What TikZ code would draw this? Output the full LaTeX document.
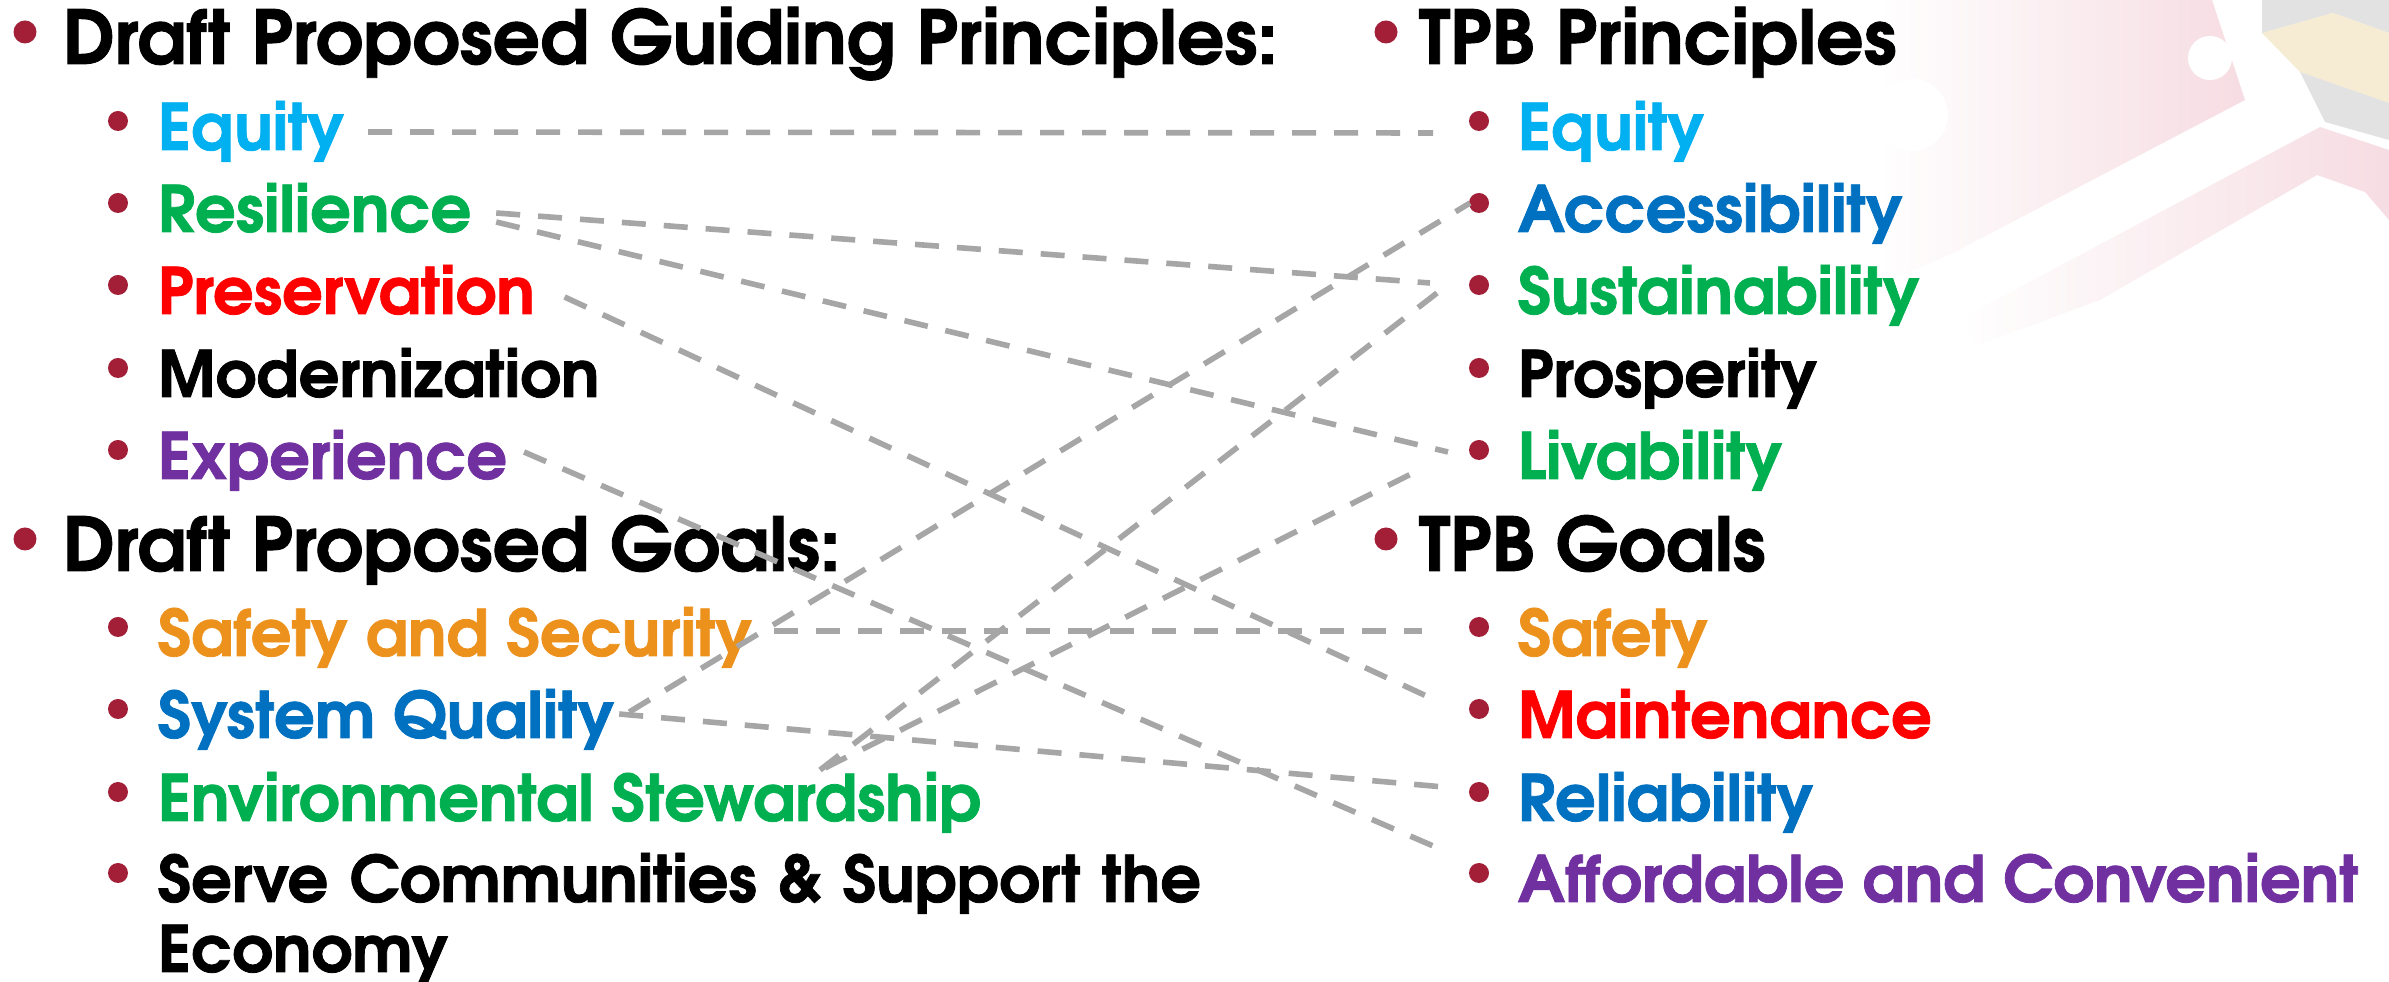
\documentclass[tikz,border=0pt]{standalone}
\usepackage{fontspec}
\newfontfamily\gothic{TeX Gyre Adventor}[BoldFeatures={FakeBold=1.2}]
\definecolor{dotred}{RGB}{163,30,55}
\definecolor{linkgrey}{RGB}{166,166,166}
\definecolor{cequity}{RGB}{0,176,240}
\definecolor{cgreen}{RGB}{0,176,80}
\definecolor{cred}{RGB}{255,0,0}
\definecolor{cpurple}{RGB}{112,48,160}
\definecolor{corange}{RGB}{237,145,29}
\definecolor{cblue}{RGB}{0,112,192}
\definecolor{flagpink}{RGB}{244,212,220}
\definecolor{flaggrey}{RGB}{215,215,215}
\definecolor{flaggold}{RGB}{244,232,200}
\newcommand\headfont{\gothic\bfseries\fontsize{18.6}{20}\selectfont}
\newcommand\itemfont{\gothic\bfseries\fontsize{16}{17.5}\selectfont}
\usetikzlibrary{positioning}
\tikzset{
  px/.style={x=0.25pt,y=-0.25pt},
  hdot/.style={circle,fill=dotred,inner sep=0pt,minimum size=5.75pt},
  idot/.style={circle,fill=dotred,inner sep=0pt,minimum size=5pt},
  head/.style={anchor=base west,inner sep=0pt,font=\headfont},
  entry/.style={anchor=base west,inner sep=0pt,font=\itemfont},
  link/.style={draw=linkgrey,line width=1.4pt,dash pattern=on 6pt off 4.5pt},
}
\begin{document}
\begin{tikzpicture}[px]
\useasboundingbox (0,0) rectangle (2389,982);
\fill[white] (0,0) rectangle (2389,982);

% faded flag in the corner
\shade[left color=white,right color=flagpink,opacity=0.8] (1880,0) -- (2212,0) -- (2245,100)
  -- (1955,252) -- (1880,285) -- cycle;
\fill[white] (2210,58) circle (5.5pt);
\fill[white] (1912,115) circle (9pt);
\shade[left color=white,right color=flagpink,opacity=0.8] (1962,318) -- (2320,127)
  -- (2389,150) -- (2389,220) -- (2365,192) -- (2317,175) -- (2100,300) -- (1978,345) -- cycle;
\fill[flaggrey,opacity=0.7] (2262,0) -- (2389,0) -- (2389,33) -- (2333,13) -- (2262,33) -- cycle;
\fill[flaggold,opacity=0.8] (2262,33) -- (2333,13) -- (2389,33) -- (2389,103) -- (2300,72) -- cycle;
\fill[flaggrey,opacity=0.7] (2300,72) -- (2389,103) -- (2389,140) -- (2325,122) -- cycle;

% left column
\node[hdot] (lhd1) at (25,32) {};
\node[head] (lhead1) at (62,64) {Draft Proposed Guiding Principles:};
\node[idot] (dlequity) at (118,121) {};
\node[entry,text=cequity] (lequity) at (157,150) {Equity};
\node[idot] (dlres) at (118,203) {};
\node[entry,text=cgreen] (lres) at (157,232) {Resilience};
\node[idot] (dlpres) at (118,285) {};
\node[entry,text=cred] (lpres) at (157,314) {Preservation};
\node[idot] (dlmod) at (118,368) {};
\node[entry] (lmod) at (157,397) {Modernization};
\node[idot] (dlexp) at (118,450) {};
\node[entry,text=cpurple] (lexp) at (157,479) {Experience};
\node[hdot] (lhd2) at (25,539) {};
\node[head] (lhead2) at (62,571) {Draft Proposed Goals:};
\node[idot] (dlsafe) at (118,627) {};
\node[entry,text=corange] (lsafe) at (157,656) {Safety and Security};
\node[idot] (dlqual) at (118,709) {};
\node[entry,text=cblue] (lqual) at (157,738) {System Quality};
\node[idot] (dlenv) at (118,792) {};
\node[entry,text=cgreen] (lenv) at (157,821) {Environmental Stewardship};
\node[idot] (dlserve) at (118,873) {};
\node[entry,text width=320pt,align=left] (lserve) at (157,902)
  {Serve Communities \& Support the\\Economy};

% right column
\node[hdot] (rhd1) at (1386,32) {};
\node[head] (rhead1) at (1418,64) {TPB Principles};
\node[idot] (dreq) at (1479,121) {};
\node[entry,text=cequity] (requity) at (1517,150) {Equity};
\node[idot] (dracc) at (1479,203) {};
\node[entry,text=cblue] (racc) at (1517,232) {Accessibility};
\node[idot] (drsust) at (1479,285) {};
\node[entry,text=cgreen] (rsust) at (1517,314) {Sustainability};
\node[idot] (drpros) at (1479,368) {};
\node[entry] (rpros) at (1517,397) {Prosperity};
\node[idot] (drliv) at (1479,450) {};
\node[entry,text=cgreen] (rliv) at (1517,479) {Livability};
\node[hdot] (rhd2) at (1386,539) {};
\node[head] (rhead2) at (1418,571) {TPB Goals};
\node[idot] (drsafe) at (1479,627) {};
\node[entry,text=corange] (rsafe) at (1517,656) {Safety};
\node[idot] (drmaint) at (1479,709) {};
\node[entry,text=cred] (rmaint) at (1517,738) {Maintenance};
\node[idot] (drrel) at (1479,792) {};
\node[entry,text=cblue] (rrel) at (1517,821) {Reliability};
\node[idot] (draff) at (1479,873) {};
\node[entry,text=cpurple] (raff) at (1517,902) {Affordable and Convenient};

% dashed links
\draw[link] ([shift={(23,-18)}]lequity.base east) -- ([shift={(-46,12)}]dreq.center);
\draw[link] ([shift={(24,-19)}]lres.base east) -- ([shift={(-49,-2)}]drsust.center);
\draw[link] ([shift={(24,-10)}]lres.base east) -- ([shift={(-31,2)}]drliv.center);
\draw[link] ([shift={(29,-17)}]lpres.base east) -- ([shift={(-44,-9)}]drmaint.center);
\draw[link] ([shift={(16,-27)}]lexp.base east) -- ([shift={(-32,-21)}]draff.center);
\draw[link] ([shift={(21,-25)}]lsafe.base east) -- ([shift={(-57,4)}]drsafe.center);
\draw[link] ([shift={(14,-26)}]lqual.base east) -- ([shift={(-9,0)}]dracc.center);
\draw[link] ([shift={(4,-24)}]lqual.base east) -- ([shift={(-24,-4)}]drrel.center);
\draw[link] ([shift={(663,-51)}]lenv.base west) -- ([shift={(-42,8)}]drsust.center);
\draw[link] ([shift={(668,-53)}]lenv.base west) -- ([shift={(-54,17)}]drliv.center);

\end{tikzpicture}
\end{document}
